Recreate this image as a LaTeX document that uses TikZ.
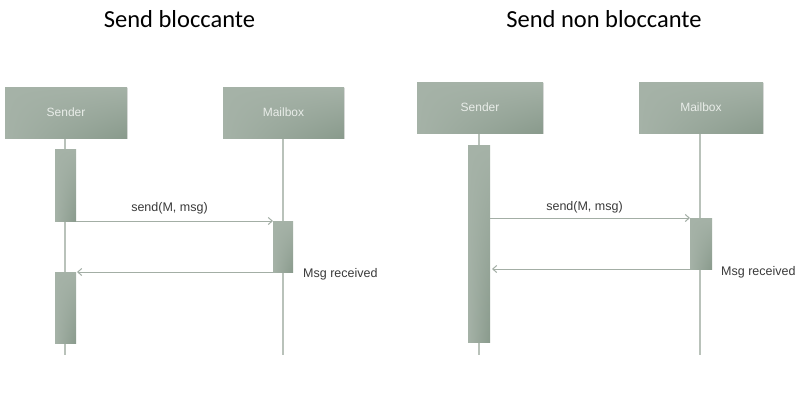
\documentclass[tikz,border=0pt]{standalone}
\usepackage{fontspec}
\setmainfont{Liberation Sans}
\newfontfamily\titlefont{Carlito}
\usetikzlibrary{arrows.meta,shadings}
\definecolor{boxlight}{HTML}{A5B2A7}
\definecolor{boxdark}{HTML}{899A8C}
\definecolor{lifeline}{HTML}{B9C2BA}
\definecolor{arrowc}{HTML}{A3AEA5}
\definecolor{labelc}{HTML}{3A3A3A}
\definecolor{boxtext}{HTML}{E9EDE9}
\tikzset{
  x=1pt, y=-1pt,
  gshade/.style={upper left=boxlight, upper right=boxlight, lower left=boxlight, lower right=boxdark},
  headtext/.style={inner sep=0pt, font=\fontsize{12}{14}\selectfont, text=boxtext},
  life/.style={draw=lifeline, line width=1.1pt},
  msg/.style={draw=arrowc, line width=1pt, -{Straight Barb[length=4pt,width=7pt]}},
  lbl/.style={font=\fontsize{12.5}{14}\selectfont, text=labelc, inner sep=0pt},
  ttl/.style={font=\titlefont\fontsize{24.5}{28}\selectfont, text=black, inner sep=0pt, anchor=base}
}
\begin{document}
\begin{tikzpicture}
\useasboundingbox (0,0) rectangle (804,402);
\fill[white] (0,0) rectangle (804,402);
% titles
\node[ttl] (t1) at (179.5,27) {Send bloccante};
\node[ttl] (t2) at (604,27) {Send non bloccante};

% ===== left panel =====
\coordinate (s1top) at (65,138);
\coordinate (s1bot) at (65,355);
\coordinate (m1top) at (283,138);
\coordinate (m1bot) at (283,355);
\draw[life] (s1top) -- (s1bot);
\draw[life] (m1top) -- (m1bot);
\fill[black!12] (6,88) rectangle (128,139);
\shade[gshade] (5,87) rectangle (127,138);
\node[headtext] (s1) at (66,112.5) {Sender};
\fill[black!12] (224,88) rectangle (345,139);
\shade[gshade] (223,87) rectangle (344,138);
\node[headtext] (m1) at (283.5,112.5) {Mailbox};
\shade[gshade] (55,149) rectangle (76,221);
\coordinate (a1r) at (76,221);
\shade[gshade] (273,221) rectangle (293,272);
\coordinate (b1l) at (273,221);
\coordinate (b1bl) at (273,272);
\shade[gshade] (55,272) rectangle (76,343);
\coordinate (c1r) at (77,272);
\draw[msg] (a1r) -- (b1l);
\draw[msg] (b1bl) -- (c1r);
\node[lbl] (l1) at (169.5,208) {send(M, msg)};
\node[lbl, anchor=west] (r1) at (303,274) {Msg received};

% ===== right panel =====
\coordinate (s2top) at (479,133);
\coordinate (s2bot) at (479,355);
\coordinate (m2top) at (700,133);
\coordinate (m2bot) at (700,355);
\draw[life] (s2top) -- (s2bot);
\draw[life] (m2top) -- (m2bot);
\fill[black!12] (418,83) rectangle (544,134);
\shade[gshade] (417,82) rectangle (543,133);
\node[headtext] (s2) at (480,107.5) {Sender};
\fill[black!12] (640,83) rectangle (764,134);
\shade[gshade] (639,82) rectangle (763,133);
\node[headtext] (m2) at (701,107.5) {Mailbox};
\shade[gshade] (468,145) rectangle (490,342);
\coordinate (a2r) at (490,218);
\coordinate (c2r) at (492,269);
\shade[gshade] (690,218) rectangle (712,269);
\coordinate (b2l) at (690,218);
\coordinate (b2bl) at (690,269);
\draw[msg] (a2r) -- (b2l);
\draw[msg] (b2bl) -- (c2r);
\node[lbl] (l2) at (584.5,207) {send(M, msg)};
\node[lbl, anchor=west] (r2) at (721,272) {Msg received};
\end{tikzpicture}
\end{document}
